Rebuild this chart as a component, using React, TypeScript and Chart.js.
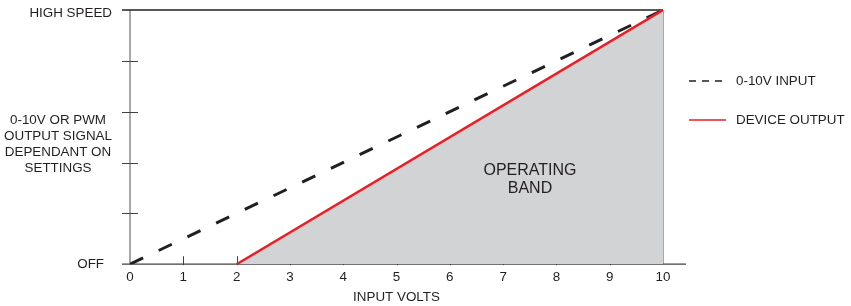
import React, { useEffect, useRef } from "react";
import { Chart, registerables } from "chart.js";

Chart.register(...registerables);

// Data
const inputVolts = [0, 10];
const inputSignal = [0, 10];
const outputVolts = [2, 10];
const outputSignal = [0, 10];
const xTicks = [0, 1, 2, 3, 4, 5, 6, 7, 8, 9, 10];
const yTickValues = [0, 2, 4, 6, 8, 10];
const yTopLabel = "HIGH SPEED";
const yBottomLabel = "OFF";
const yMiddleLabel = ["0-10V OR PWM", "OUTPUT SIGNAL", "DEPENDANT ON", "SETTINGS"];
const bandLabel = ["OPERATING", "BAND"];
const legendLabels = ["0-10V INPUT", "DEVICE OUTPUT"];
const xTitle = "INPUT VOLTS";

const FONT = "'Liberation Sans', Arial, sans-serif";
const FS = 13.4;
const TEXT = "#231f20";
const RED = "#ed1c24";
const FILL = "#d1d3d4";

const decorPlugin = {
  id: "decor",
  beforeDatasetsDraw(chart: any) {
    const ctx = chart.ctx;
    const xs = chart.scales.x;
    const ys = chart.scales.y;
    const left = xs.getPixelForValue(0);
    const right = xs.getPixelForValue(10);
    const top = ys.getPixelForValue(10);
    const bottom = ys.getPixelForValue(0);
    ctx.save();
    ctx.setLineDash([]);
    // left axis
    ctx.strokeStyle = "#6d6e71";
    ctx.lineWidth = 1.2;
    ctx.beginPath();
    ctx.moveTo(left, top);
    ctx.lineTo(left, bottom);
    ctx.stroke();
    // y ticks
    ctx.strokeStyle = "#414042";
    ctx.lineWidth = 1;
    yTickValues.forEach((v) => {
      if (v === 0 || v === 10) return;
      const y = Math.round(ys.getPixelForValue(v)) + 0.5;
      ctx.beginPath();
      ctx.moveTo(left - 8, y);
      ctx.lineTo(left + 8, y);
      ctx.stroke();
    });
    // right border
    ctx.strokeStyle = "#6d6e71";
    ctx.lineWidth = 1.2;
    ctx.beginPath();
    ctx.moveTo(right, top);
    ctx.lineTo(right, bottom);
    ctx.stroke();
    // top line
    ctx.strokeStyle = TEXT;
    ctx.lineWidth = 1.3;
    ctx.beginPath();
    ctx.moveTo(left - 8, top);
    ctx.lineTo(right, top);
    ctx.stroke();
    // x ticks
    ctx.strokeStyle = "#414042";
    ctx.lineWidth = 1;
    xTicks.forEach((v) => {
      if (v === 0 || v === 10) return;
      const x = Math.round(xs.getPixelForValue(v)) + 0.5;
      ctx.beginPath();
      ctx.moveTo(x, bottom - 8);
      ctx.lineTo(x, bottom + 1);
      ctx.stroke();
    });
    // bottom axis
    ctx.strokeStyle = "#414042";
    ctx.lineWidth = 1.3;
    ctx.beginPath();
    ctx.moveTo(left - 8, bottom);
    ctx.lineTo(right + 23, bottom);
    ctx.stroke();
    ctx.restore();
  },
  afterDraw(chart: any) {
    const ctx = chart.ctx;
    const xs = chart.scales.x;
    const ys = chart.scales.y;
    const left = xs.getPixelForValue(0);
    const right = xs.getPixelForValue(10);
    const top = ys.getPixelForValue(10);
    const bottom = ys.getPixelForValue(0);
    ctx.save();
    ctx.fillStyle = TEXT;
    ctx.font = `${FS}px ${FONT}`;
    ctx.textBaseline = "middle";
    // y labels
    ctx.textAlign = "right";
    ctx.fillText(yTopLabel, left - 18, top + 3);
    ctx.fillText(yBottomLabel, left - 26, bottom);
    ctx.textAlign = "center";
    yMiddleLabel.forEach((t, i) => {
      ctx.fillText(t, left - 72, 120 + i * 16);
    });
    // band label
    ctx.font = `16px ${FONT}`;
    bandLabel.forEach((t, i) => {
      ctx.fillText(t, 530, 171 + i * 18);
    });
    // legend
    const lx = right + 26;
    ctx.font = `${FS}px ${FONT}`;
    ctx.textAlign = "left";
    ctx.fillText(legendLabels[0], lx + 47, 81);
    ctx.fillText(legendLabels[1], lx + 47, 120);
    ctx.strokeStyle = "#231f20";
    ctx.lineWidth = 1.5;
    ctx.setLineDash([7, 6]);
    ctx.beginPath();
    ctx.moveTo(lx, 81);
    ctx.lineTo(lx + 34, 81);
    ctx.stroke();
    ctx.setLineDash([]);
    ctx.strokeStyle = RED;
    ctx.lineWidth = 1.5;
    ctx.beginPath();
    ctx.moveTo(lx, 120);
    ctx.lineTo(lx + 37, 120);
    ctx.stroke();
    ctx.restore();
  },
};

export default function App() {
  const ref = useRef<HTMLCanvasElement | null>(null);
  useEffect(() => {
    if (!ref.current) return;
    const chart = new Chart(ref.current, {
      type: "line",
      data: {
        datasets: [
          {
            label: legendLabels[1],
            data: outputVolts.map((x, i) => ({ x, y: outputSignal[i] })),
            borderColor: RED,
            borderWidth: 2.5,
            backgroundColor: FILL,
            fill: "origin",
            pointRadius: 0,
            tension: 0,
          },
          {
            label: legendLabels[0],
            data: inputVolts.map((x, i) => ({ x, y: inputSignal[i] })),
            borderColor: "#231f20",
            borderWidth: 3,
            borderDash: [14.5, 17.3],
            fill: false,
            pointRadius: 0,
            tension: 0,
          },
        ],
      },
      options: {
        animation: false,
        responsive: false,
        maintainAspectRatio: false,
        layout: { padding: { left: 130, right: 188, top: 10, bottom: 1 } },
        plugins: {
          legend: { display: false },
          tooltip: { enabled: false },
        },
        scales: {
          x: {
            type: "linear",
            min: 0,
            max: 10,
            afterBuildTicks: (scale: any) => {
              scale.ticks = xTicks.map((v) => ({ value: v }));
            },
            grid: { display: false, drawTicks: false },
            border: { display: false },
            ticks: {
              padding: 6,
              color: TEXT,
              font: { family: FONT, size: FS, lineHeight: 14.4 / FS },
            },
            title: {
              display: true,
              text: xTitle,
              color: TEXT,
              font: { family: FONT, size: FS, lineHeight: 14.4 / FS },
              padding: { top: 0, bottom: 0 },
            },
          },
          y: {
            type: "linear",
            min: 0,
            max: 10,
            display: false,
          },
        },
      },
      plugins: [decorPlugin],
    });
    return () => chart.destroy();
  }, []);
  return (
    <div style={{ position: "absolute", left: 0, top: 0, width: 851, height: 306, background: "#fff" }}>
      <canvas ref={ref} width={851} height={306} style={{ display: "block" }} />
    </div>
  );
}
